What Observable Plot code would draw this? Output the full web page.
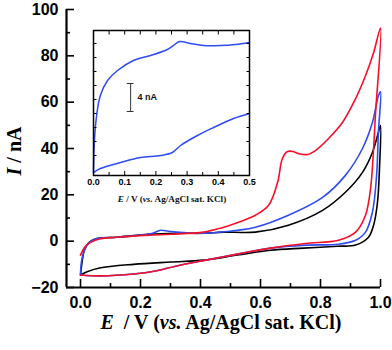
<!DOCTYPE html>
<html><head><meta charset="utf-8">
<script src="https://cdn.jsdelivr.net/npm/d3@7"></script>
<script src="https://cdn.jsdelivr.net/npm/@observablehq/plot@0.6"></script>
<style>
html,body{margin:0;padding:0;background:#fff;}
#wrap{position:relative;width:392px;height:350px;}
#main{position:absolute;left:0;top:0;}
#inset{position:absolute;left:83px;top:25px;}
</style></head><body><div id="wrap"><div id="main"></div><div id="inset"></div></div>
<script>
// ---------- data ----------
const xDomain = [-0.0467, 1.0];
const yDomain = [-20, 100];
const xMajor = [0, 0.2, 0.4, 0.6, 0.8, 1.0];
const xMinor = [0.1, 0.3, 0.5, 0.7, 0.9];
const yMajor = [-20, 0, 20, 40, 60, 80, 100];
const yMinor = [-10, 10, 30, 50, 70, 90];

const redE = [0, 0.02, 0.063, 0.12, 0.23, 0.30, 0.41, 0.467, 0.527, 0.583, 0.627, 0.657, 0.673, 0.69, 0.707, 0.727, 0.757, 0.783, 0.827, 0.873, 0.917, 0.95, 0.977, 1.0,
  0.983, 0.977, 0.967, 0.95, 0.917, 0.86, 0.75, 0.633, 0.523, 0.4, 0.317, 0.25, 0.177, 0.067, 0];
const redI = [-6, -1.7, 0.9, 1.7, 2.6, 3.0, 3.9, 5.6, 8.2, 11.2, 15.5, 25.4, 35.7, 38.7, 38.7, 37.8, 37.4, 39.1, 44.3, 51.2, 61.5, 71.4, 81.3, 92,
  54.2, 40, 22.8, 11.2, 3.9, 0.4, -1.0, -3.0, -5.6, -8.6, -10.8, -12.9, -14.2, -15, -14.6];

const blueE = [0, 0.003, 0.013, 0.03, 0.063, 0.12, 0.2, 0.24, 0.267, 0.293, 0.32, 0.41, 0.523, 0.583, 0.693, 0.807, 0.883, 0.94, 0.973, 0.993, 1.0,
  0.993, 0.987, 0.973, 0.95, 0.917, 0.86, 0.75, 0.633, 0.523, 0.4, 0.317, 0.25, 0.177, 0.067, 0];
const blueI = [-14.6, -9, -3.9, -0.4, 1.3, 1.7, 2.6, 3.4, 4.7, 4.3, 3.9, 3.4, 4.7, 6.0, 11.2, 18.9, 28.4, 40, 51.2, 62.8, 64.5,
  46.9, 28.4, 12.5, 3.9, 0.4, -1.3, -1.7, -3.0, -5.6, -8.6, -10.8, -12.9, -14.2, -15, -14.6];

const blackE = [0, 0.003, 0.013, 0.03, 0.063, 0.12, 0.23, 0.32, 0.41, 0.477, 0.583, 0.693, 0.807, 0.883, 0.94, 0.973, 0.993, 1.0,
  0.997, 0.99, 0.977, 0.96, 0.917, 0.857, 0.743, 0.633, 0.523, 0.41, 0.30, 0.177, 0.063, 0.02, 0];
const blackI = [-14.6, -11.2, -3.9, -0.4, 1.3, 1.7, 3.0, 3.4, 3.4, 3.9, 3.9, 6.9, 13.3, 21.1, 29.7, 38.3, 46.9, 49.9,
  32.7, 16.8, 6.9, 1.7, -1.7, -2.2, -3.0, -3.9, -6.0, -8.2, -9.0, -10.0, -11.6, -13.3, -14.6];

// inset (blue, zoomed 0–0.5 V; arbitrary current offset, 4 nA scale bar)
const insetXDomain = [0, 0.5];
const insetYDomain = [-0.857, 19.857];
const insetXMajor = [0, 0.1, 0.2, 0.3, 0.4, 0.5];
const insetXMinor = [0.05, 0.15, 0.25, 0.35, 0.45];
const insetYTicks = [2, 4, 6, 8, 10, 12, 14, 16, 18];
const insetE = [0, 0.003, 0.01, 0.022, 0.045, 0.077, 0.128, 0.183, 0.237, 0.256, 0.276, 0.311, 0.353, 0.407, 0.455, 0.5];
const insetUpper = [-0.43, 4.14, 7.71, 10.57, 12.71, 14.14, 15.57, 16.29, 17.14, 17.71, 18.29, 18.0, 17.71, 17.71, 17.86, 18.14];
const insetLE = [0, 0.022, 0.087, 0.151, 0.215, 0.253, 0.279, 0.333, 0.385, 0.449, 0.5];
const insetLower = [-0.43, 0.14, 1.0, 1.71, 2.0, 2.43, 3.43, 4.86, 6.0, 7.29, 8.0];
const scaleBarE = 0.119;
const scaleBarI = [8.29, 12.29];
const scaleBarLabel = "4 nA";

const RED = "#f5102a", BLUE = "#2f4cf2", BLACK = "#000";

const idx = a => d3.range(a.length);
const curve = (E, I, color) => Plot.line(idx(E), {x: i => E[i], y: i => I[i], stroke: color, strokeWidth: 1.6, curve: "catmull-rom"});

// ---------- main chart ----------
const main = Plot.plot({
  width: 392, height: 350,
  marginLeft: 66, marginRight: 12, marginTop: 9, marginBottom: 63,
  x: {domain: xDomain},
  y: {domain: yDomain},
  style: {fontFamily: "'Liberation Sans', Arial, sans-serif", fontSize: "16px", fontWeight: "bold", color: "#000", background: "transparent", overflow: "visible"},
  marks: [
    curve(blackE, blackI, BLACK),
    curve(blueE, blueI, BLUE),
    curve(redE, redI, RED),
    Plot.axisX(xMajor, {anchor: "bottom", tickSize: 8, insetBottom: 8, tickPadding: 9, strokeWidth: 1.6, tickFormat: d3.format(".1f"), label: null}),
    Plot.axisX(xMinor, {anchor: "bottom", tickSize: 4, insetBottom: 4, strokeWidth: 1.6, tickFormat: () => "", label: null}),
    Plot.axisY(yMajor, {anchor: "left", tickSize: 8, insetLeft: 8, tickPadding: 8, strokeWidth: 1.6, tickFormat: d3.format("d"), label: null}),
    Plot.axisY(yMinor, {anchor: "left", tickSize: 4, insetLeft: 4, strokeWidth: 1.6, tickFormat: () => "", label: null}),
    Plot.ruleX([xDomain[0]], {strokeWidth: 2.2}),
    Plot.ruleY([yDomain[0]], {strokeWidth: 2.2})
  ]
});
document.getElementById("main").appendChild(main);

const ms = d3.select(main);
const xt = ms.append("text").attr("x", 221).attr("y", 329).attr("text-anchor", "middle")
  .attr("font-family", "'Liberation Serif', 'Times New Roman', serif").attr("font-size", 20).attr("font-weight", "bold").attr("fill", "#000");
xt.append("tspan").attr("font-style", "italic").text("E");
xt.append("tspan").text("  / V (");
xt.append("tspan").attr("font-style", "italic").text("vs.");
xt.append("tspan").text(" Ag/AgCl sat. KCl)");
const yt = ms.append("text").attr("transform", "translate(21,151) rotate(-90)").attr("text-anchor", "middle")
  .attr("font-family", "'Liberation Serif', 'Times New Roman', serif").attr("font-size", 20).attr("font-weight", "bold").attr("fill", "#000");
yt.append("tspan").attr("font-style", "italic").text("I");
yt.append("tspan").text(" / nA");

// ---------- inset ----------
const inset = Plot.plot({
  width: 180, height: 185,
  marginLeft: 10, marginRight: 14, marginTop: 5, marginBottom: 35,
  x: {domain: insetXDomain},
  y: {domain: insetYDomain},
  style: {fontFamily: "'Liberation Sans', Arial, sans-serif", fontSize: "9px", fontWeight: "bold", color: "#000", background: "transparent", overflow: "visible"},
  marks: [
    Plot.line(idx(insetE), {x: i => insetE[i], y: i => insetUpper[i], stroke: BLUE, strokeWidth: 1.5, curve: "catmull-rom"}),
    Plot.line(idx(insetLE), {x: i => insetLE[i], y: i => insetLower[i], stroke: BLUE, strokeWidth: 1.5, curve: "catmull-rom"}),
    Plot.frame({stroke: "#000", strokeWidth: 1.5}),
    Plot.axisX(insetXMajor, {anchor: "bottom", tickSize: 4, insetBottom: 4, tickPadding: 3, tickFormat: d3.format(".1f"), label: null}),
    Plot.axisX(insetXMinor, {anchor: "bottom", tickSize: 3, insetBottom: 3, tickFormat: () => "", label: null}),
    Plot.axisX(insetXMajor.concat(insetXMinor), {anchor: "top", tickSize: 3.5, insetTop: 3.5, tickFormat: () => "", label: null}),
    Plot.axisY(insetYTicks, {anchor: "left", tickSize: 3.5, insetLeft: 3.5, tickFormat: () => "", label: null}),
    Plot.axisY(insetYTicks, {anchor: "right", tickSize: 3.5, insetRight: 3.5, tickFormat: () => "", label: null}),
    Plot.ruleX([scaleBarE], {y1: scaleBarI[0], y2: scaleBarI[1], stroke: "#333", strokeWidth: 1}),
    Plot.ruleY(scaleBarI, {x1: scaleBarE - 0.011, x2: scaleBarE + 0.011, stroke: "#333", strokeWidth: 1}),
    Plot.text([scaleBarLabel], {x: scaleBarE + 0.022, y: (scaleBarI[0] + scaleBarI[1]) / 2, textAnchor: "start", fontSize: 9, fontWeight: "bold", fill: "#111"})
  ]
});
document.getElementById("inset").appendChild(inset);
const is = d3.select(inset);
const it = is.append("text").attr("x", 89).attr("y", 177).attr("text-anchor", "middle")
  .attr("font-family", "'Liberation Serif', 'Times New Roman', serif").attr("font-size", 9.2).attr("font-weight", "bold").attr("fill", "#111");
it.append("tspan").attr("font-style", "italic").text("E");
it.append("tspan").text(" / V (");
it.append("tspan").attr("font-style", "italic").text("vs.");
it.append("tspan").text(" Ag/AgCl sat. KCl)");
</script></body></html>
